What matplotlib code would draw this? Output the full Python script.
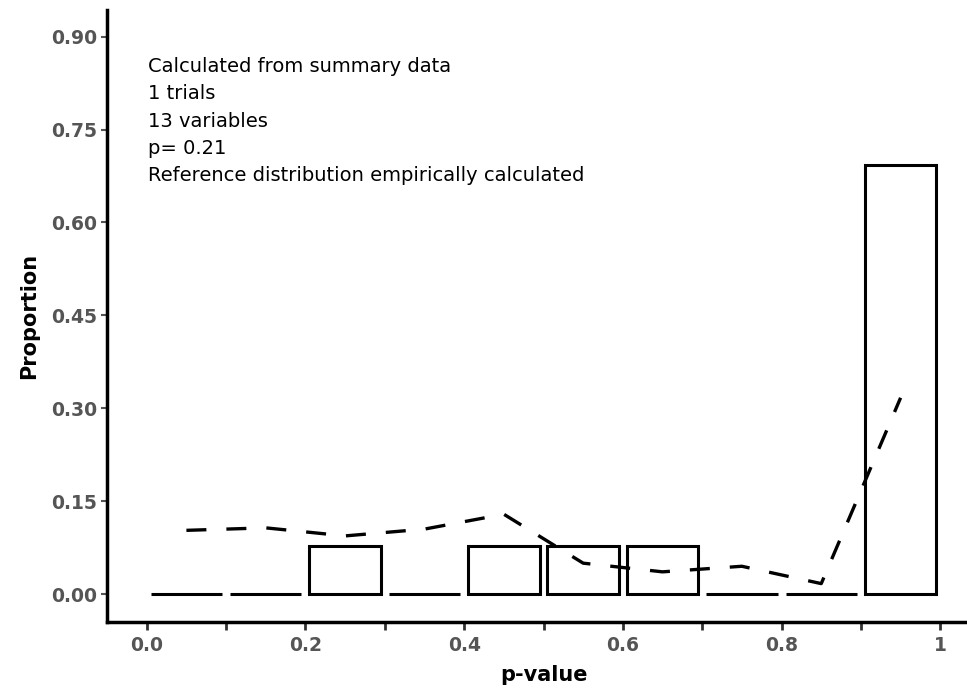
import matplotlib.pyplot as plt

plt.rcParams["font.family"] = ["DejaVu Sans"]

# histogram of observed p-values (13 variables)
bin_centers = [0.05, 0.15, 0.25, 0.35, 0.45, 0.55, 0.65, 0.75, 0.85, 0.95]
observed = [0, 0, 1/13, 0, 1/13, 1/13, 1/13, 0, 0, 9/13]
# empirically calculated reference distribution
reference = [0.103, 0.107, 0.094, 0.105, 0.129, 0.050, 0.036, 0.045, 0.017, 0.317]

x_ticks = [0.0, 0.1, 0.2, 0.3, 0.4, 0.5, 0.6, 0.7, 0.8, 0.9, 1.0]
x_labels = ["0.0", "", "0.2", "", "0.4", "", "0.6", "", "0.8", "", "1"]
y_ticks = [0.0, 0.15, 0.30, 0.45, 0.60, 0.75, 0.90]

note = ("Calculated from summary data\n1 trials\n13 variables\np= 0.21\n"
        "Reference distribution empirically calculated")

fig = plt.figure(figsize=(9.67, 6.88), dpi=100)
# plot panel runs a little past the right edge of the image, as in the original
ax = fig.add_axes([0.1107, 0.0959, 0.9027, 0.8896])

ax.bar(bin_centers, observed, width=0.09, facecolor="white",
       edgecolor="black", linewidth=2.2)
ax.plot(bin_centers, reference, color="black", linewidth=2.4,
        linestyle=(0, (6, 6)))

ax.text(0.001, 0.867, note, fontsize=14, va="top", ha="left", linespacing=1.55)

ax.set_xlim(-0.05, 1.05)
ax.set_ylim(-0.045, 0.943)
ax.set_xticks(x_ticks)
ax.set_xticklabels(x_labels)
ax.set_yticks(y_ticks)
ax.set_yticklabels([f"{v:.2f}" for v in y_ticks])

for lab in ax.get_xticklabels() + ax.get_yticklabels():
    lab.set_fontweight("bold")
    lab.set_color("#555555")
    lab.set_fontsize(13.5)

ax.tick_params(axis="x", length=6, width=2, color="#333333", pad=4)
ax.tick_params(axis="y", length=4, width=1.5, color="#555555", pad=3)

ax.spines["top"].set_visible(False)
ax.spines["right"].set_visible(False)
ax.spines["left"].set_linewidth(2.5)
ax.spines["bottom"].set_linewidth(2.5)

ax.set_xlabel("p-value", fontsize=15, fontweight="bold", labelpad=7)
ax.set_ylabel("Proportion", fontsize=15, fontweight="bold", labelpad=9)

fig.savefig("out.png", dpi=100)
